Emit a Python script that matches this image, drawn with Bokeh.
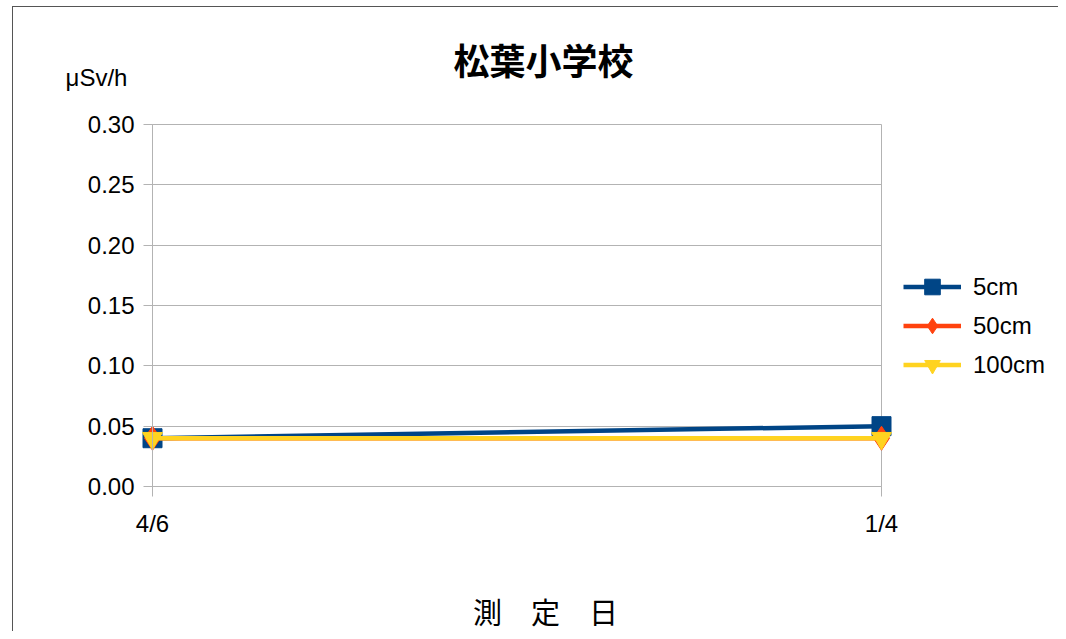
from bokeh.plotting import figure
from bokeh.models import (Range1d, FixedTicker, Legend, LegendItem, Label, Grid,
                          NumeralTickFormatter, InlineStyleSheet)
from bokeh.embed import file_html
from bokeh.resources import INLINE

# ---- data ----
dates = ["4/6", "1/4"]
s_5cm = [0.04, 0.05]
s_50cm = [0.04, 0.04]
s_100cm = [0.04, 0.04]
y_ticks = [0.00, 0.05, 0.10, 0.15, 0.20, 0.25, 0.30]
title_text = "松葉小学校"
unit_text = "μSv/h"
xlabel_text = "測\u3000定\u3000日"

xs = list(range(len(dates)))
y_lo, y_hi = y_ticks[0], y_ticks[-1]

# ---- layout (pixels on the canvas) ----
W, H = 1058, 631
FL, FT, FR, FB = 152, 124, 881, 486          # plotting area of the chart
BX, BY = 12, 6                               # outer chart border
ppx = (FR - FL) / (len(dates) - 1)
ppy = (FB - FT) / (y_hi - y_lo)

p = figure(width=W, height=H, output_backend="svg", toolbar_location=None,
           x_range=Range1d(-FL / ppx, (W - FL) / ppx),
           y_range=Range1d(y_lo - (H - FB) / ppy, y_hi + FT / ppy),
           min_border=0, min_border_left=0, min_border_right=0,
           min_border_top=0, min_border_bottom=0)
p.title = None
p.background_fill_color = "white"
p.border_fill_color = "white"
p.outline_line_color = None

p.stylesheets = [InlineStyleSheet(css=f"""
:host::after {{ content: ''; position: absolute; left: {BX}px; top: {BY}px;
  width: {W - BX}px; height: {H - BY}px; box-sizing: border-box;
  border-left: 1.5px solid #555555; border-top: 1.5px solid #555555;
  border-right: 0; border-bottom: 0; pointer-events: none; }}
""")]

grid_col = "#b3b3b3"
lab_font = "Liberation Sans"

# y axis
p.yaxis.fixed_location = xs[0]
p.yaxis.bounds = (y_lo, y_hi)
p.yaxis.ticker = FixedTicker(ticks=y_ticks)
p.yaxis.formatter = NumeralTickFormatter(format="0.00")
p.yaxis.axis_line_color = grid_col
p.yaxis.major_tick_line_color = grid_col
p.yaxis.major_tick_out = 9
p.yaxis.major_tick_in = 0
p.yaxis.minor_tick_line_color = None
p.yaxis.major_label_standoff = 9
p.yaxis.major_label_text_font = lab_font
p.yaxis.major_label_text_font_size = "24px"
p.yaxis.major_label_text_color = "black"

# x axis
p.xaxis.fixed_location = y_lo
p.xaxis.bounds = (xs[0], xs[-1])
p.xaxis.ticker = FixedTicker(ticks=xs)
p.xaxis.major_label_overrides = {i: d for i, d in enumerate(dates)}
p.xaxis.axis_line_color = grid_col
p.xaxis.major_tick_line_color = grid_col
p.xaxis.major_tick_out = 10
p.xaxis.major_tick_in = 0
p.xaxis.minor_tick_line_color = None
p.xaxis.major_label_standoff = 13
p.xaxis.major_label_text_font = lab_font
p.xaxis.major_label_text_font_size = "24px"
p.xaxis.major_label_text_color = "black"

p.xgrid.ticker = FixedTicker(ticks=xs)
p.ygrid.ticker = FixedTicker(ticks=y_ticks)
p.xgrid.grid_line_color = grid_col
p.ygrid.grid_line_color = grid_col
if "cross_bounds" in Grid.properties():
    p.xgrid.cross_bounds = (y_lo, y_hi)
    p.ygrid.cross_bounds = (xs[0], xs[-1])
else:
    p.xgrid.visible = False
    p.ygrid.visible = False
    p.segment(x0=[xs[0]] * len(y_ticks), x1=[xs[-1]] * len(y_ticks), y0=y_ticks, y1=y_ticks,
              line_color=grid_col, line_width=1)
    p.segment(x0=xs, x1=xs, y0=[y_lo] * len(xs), y1=[y_hi] * len(xs),
              line_color=grid_col, line_width=1)

c5, c50, c100 = "#004586", "#ff420e", "#ffd320"

l1 = p.line(xs, s_5cm, line_color=c5, line_width=4.5)
m1 = p.scatter(xs, s_5cm, marker="square", size=19, fill_color=c5, line_color=c5)
l2 = p.line(xs, s_50cm, line_color=c50, line_width=4.5)
m2 = p.scatter(xs, s_50cm, marker="diamond", size=24, fill_color=c50, line_color=c50)
l3 = p.line(xs, s_100cm, line_color=c100, line_width=4.5)
m3 = p.scatter(xs, s_100cm, marker="inverted_triangle", size=20, fill_color=c100, line_color=c100)

legend = Legend(items=[
    LegendItem(label="5cm", renderers=[l1, m1]),
    LegendItem(label="50cm", renderers=[l2, m2]),
    LegendItem(label="100cm", renderers=[l3, m3]),
], location=(903, 247))
legend.glyph_width = 58
legend.glyph_height = 39
legend.label_height = 39
legend.spacing = 0
legend.padding = 0
legend.margin = 0
legend.label_standoff = 12
legend.label_text_font = lab_font
legend.label_text_font_size = "24px"
legend.label_text_color = "black"
legend.border_line_color = None
legend.background_fill_alpha = 0
p.add_layout(legend, "center")

p.add_layout(Label(x=543, y=58, x_units="canvas", y_units="canvas", text=title_text,
                   text_font="Noto Sans CJK JP", text_font_style="bold", text_font_size="36px",
                   text_align="center", text_baseline="middle", text_color="black"))
p.add_layout(Label(x=96, y=77, x_units="canvas", y_units="canvas", text=unit_text,
                   text_font=lab_font, text_font_size="24px",
                   text_align="center", text_baseline="middle", text_color="black"))
p.add_layout(Label(x=545, y=610, x_units="canvas", y_units="canvas", text=xlabel_text,
                   text_font="Noto Sans CJK JP", text_font_size="29px",
                   text_align="center", text_baseline="middle", text_color="black"))

open("out.html", "w").write(file_html(p, INLINE))
